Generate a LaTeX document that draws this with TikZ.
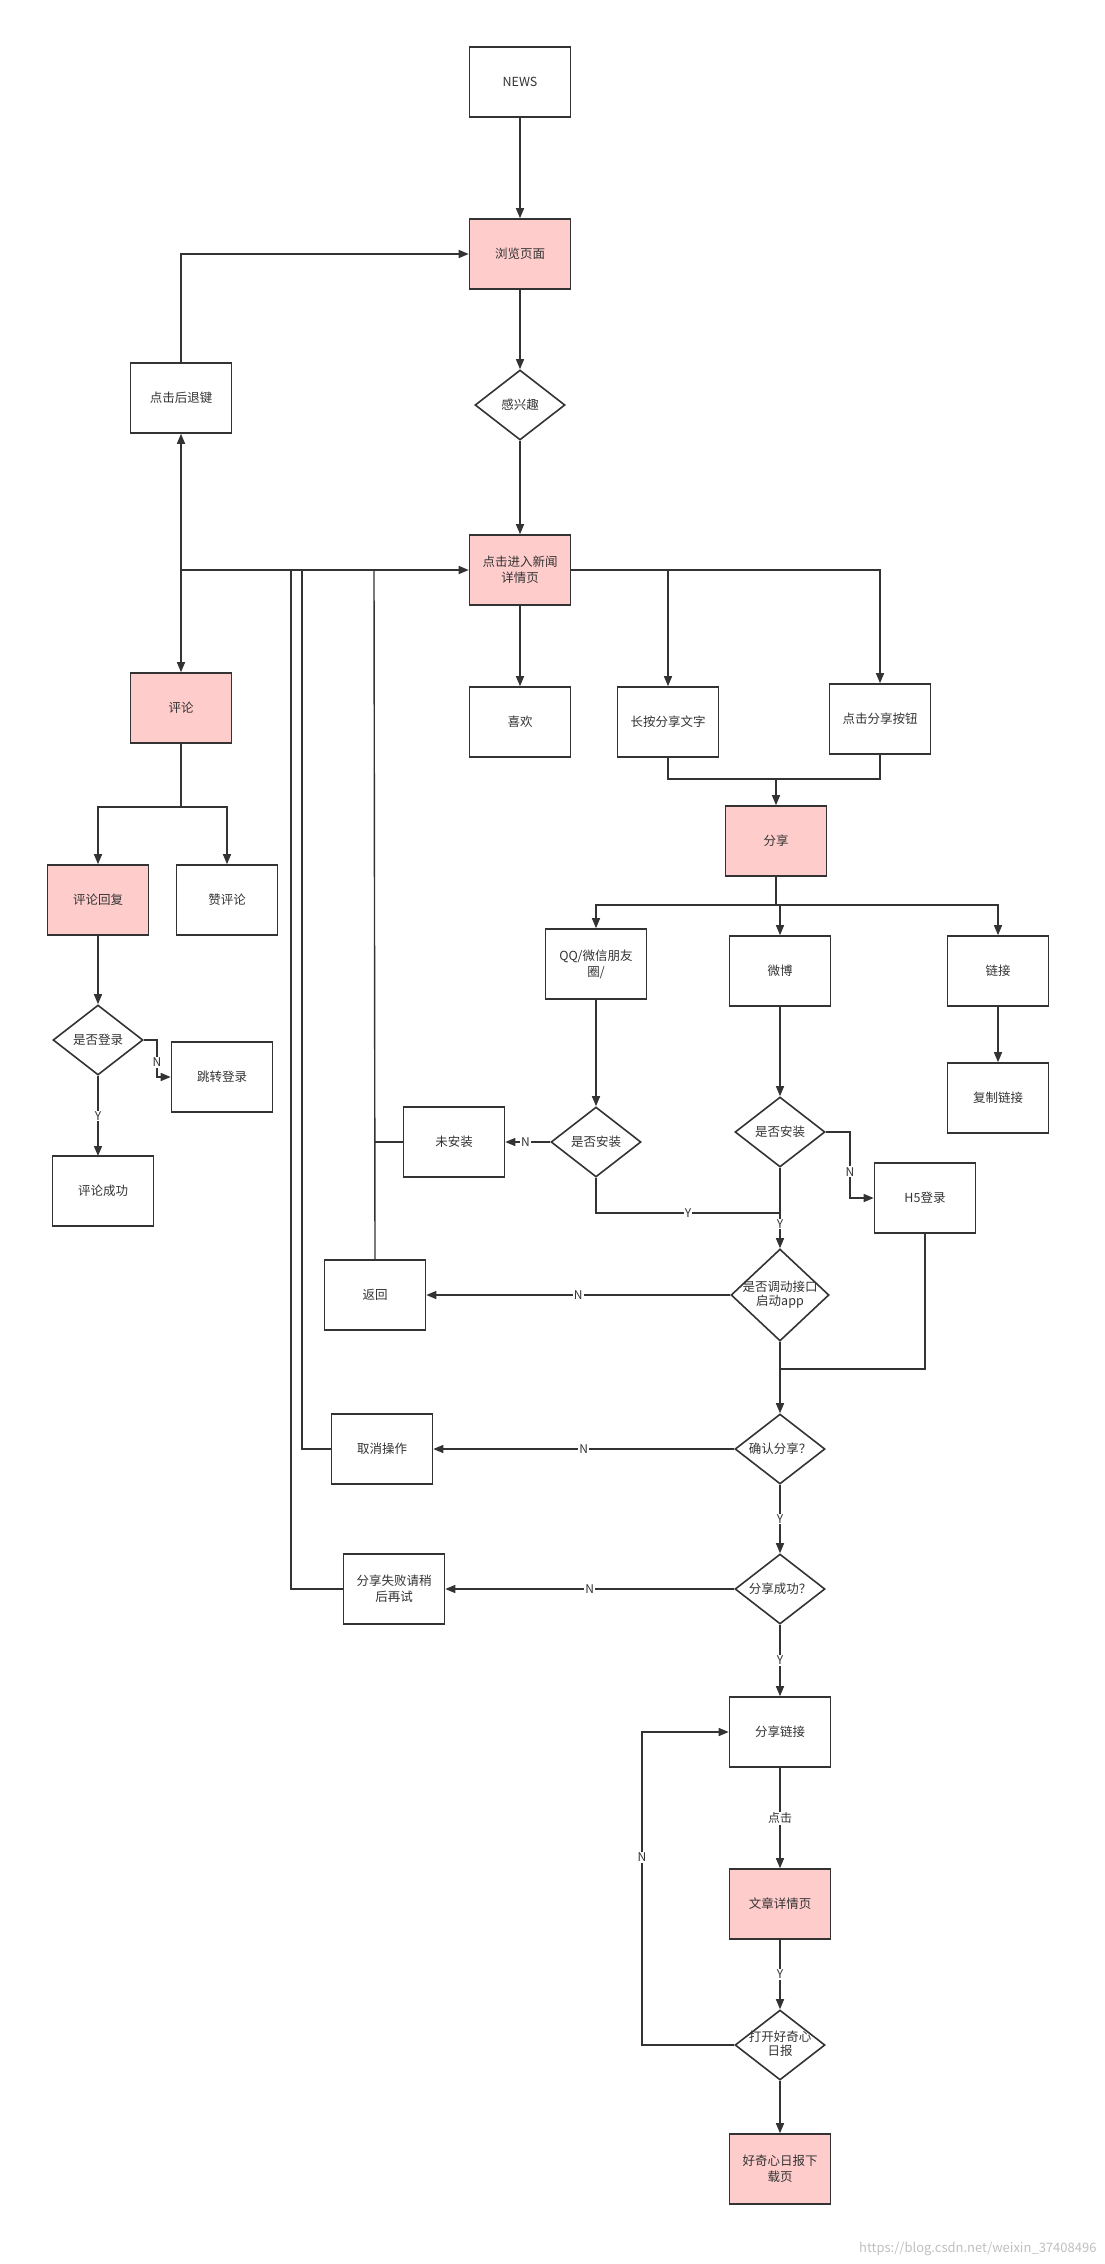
\documentclass[tikz,border=0pt]{standalone}
\usepackage{fontspec}
\setmainfont{Noto Sans CJK SC}
\usetikzlibrary{arrows.meta,shapes.geometric}
\definecolor{ln}{HTML}{333333}
\definecolor{pk}{HTML}{FFCCCC}
\begin{document}
\begin{tikzpicture}[x=1pt,y=-1pt,
  every node/.style={font=\fontsize{12.5}{16}\selectfont,text=ln},
  box/.style={draw=ln,line width=1.6pt,minimum width=101pt,minimum height=70pt,align=center,inner sep=2pt,text width=92pt},
  pbox/.style={box,fill=pk},
  dia/.style={draw=ln,line width=1.6pt,diamond,inner sep=0pt,minimum width=90pt,minimum height=70pt},
  wdia/.style={dia,minimum width=98pt,minimum height=92pt},
  lab/.style={fill=white,inner sep=1pt,font=\fontsize{12}{14}\selectfont},
  e/.style={draw=ln,line width=1.4pt,-{Triangle[length=10pt,width=8pt]}},
  l/.style={draw=ln,line width=1.4pt}]
\useasboundingbox (0,0) rectangle (1105,2264);
% nodes
\node[box] (news) at (520,82) {NEWS};
\node[pbox] (browse) at (520,254) {浏览页面};
\node[dia,label={center:感兴趣}] (interest) at (520,405) {};
\node[pbox] (detail) at (520,570) {点击进入新闻\\详情页};
\node[box] (back) at (181,398) {点击后退键};
\node[pbox] (cmt) at (181,708) {评论};
\node[box] (like) at (520,722) {喜欢};
\node[box] (lpress) at (668,722) {长按分享文字};
\node[box] (sbtn) at (880,719) {点击分享按钮};
\node[pbox] (share) at (776,841) {分享};
\node[box] (qq) at (596,964) {QQ/微信朋友\\圈/};
\node[box] (wb) at (780,971) {微博};
\node[box] (link) at (998,971) {链接};
\node[box] (copy) at (998,1098) {复制链接};
\node[pbox] (reply) at (98,900) {评论回复};
\node[box] (zan) at (227,900) {赞评论};
\node[dia,label={center:是否登录}] (login) at (98,1040) {};
\node[box] (jump) at (222,1077) {跳转登录};
\node[box] (csucc) at (103,1191) {评论成功};
\node[dia,label={center:是否安装}] (qqinst) at (596,1142) {};
\node[box] (noinst) at (454,1142) {未安装};
\node[dia,label={center:是否安装}] (wbinst) at (780,1132) {};
\node[box] (h5) at (925,1198) {H5登录};
\node[wdia,label={center:{\begin{tabular}{@{}c@{}}是否调动接口\\[-2pt]启动app\end{tabular}}}] (call) at (780,1295) {};
\node[box] (ret) at (375,1295) {返回};
\node[dia,label={center:确认分享？}] (confirm) at (780,1449) {};
\node[box] (cancel) at (382,1449) {取消操作};
\node[dia,label={center:分享成功？}] (succ) at (780,1589) {};
\node[box] (fail) at (394,1589) {分享失败请稍\\后再试};
\node[box] (slink) at (780,1732) {分享链接};
\node[pbox] (art) at (780,1904) {文章详情页};
\node[dia,label={center:{\begin{tabular}{@{}c@{}}打开好奇心\\[-2pt]日报\end{tabular}}}] (open) at (780,2045) {};
\node[pbox] (dl) at (780,2169) {好奇心日报下\\载页};
\node[text=black!25,font=\fontsize{13}{15}\selectfont,anchor=east] (wm) at (1100,2249) {https://blog.csdn.net/weixin\_37408496};
% coordinates
\coordinate (j1) at (181,570);
\coordinate (j2) at (374,570);
\coordinate (jp) at (776,779);
\coordinate (sp) at (776,905);
\coordinate (cp) at (181,807);
\coordinate (lc) at (157,1040);
\coordinate (ym) at (780,1213);
\coordinate (hc) at (850,1132);
\coordinate (hm) at (780,1369);
\coordinate (nl) at (642,2045);
\coordinate (csin) at (103,1156);
% edges
\path[e] (news) -- (browse);
\path[e] (browse) -- (interest);
\path[e] (interest) -- (detail);
\path[e] (back.north) |- (browse.west);
\path[e] (j1) -- (detail.west);
\path[e] (j1) -- (back.south);
\path[e] (j1) -- (cmt.north);
\path[l] (ret.north) -- (j2);
\path[l] (noinst.west) -- (374,1142);
\path[l] (cancel.west) -| (302,570);
\path[l] (fail.west) -| (291,570);
\path[e] (detail) -- (like);
\path[e] (detail.east) -| (lpress.north);
\path[e] (detail.east) -| (sbtn.north);
\path[l] (lpress.south) |- (jp);
\path[l] (sbtn.south) |- (jp);
\path[e] (jp) -- (share.north);
\path[l] (share.south) -- (sp);
\path[e] (sp) -| (qq.north);
\path[e] (sp) -| (wb.north);
\path[e] (sp) -| (link.north);
\path[e] (link) -- (copy);
\path[l] (cmt.south) -- (cp);
\path[e] (cp) -| (reply.north);
\path[e] (cp) -| (zan.north);
\path[e] (reply) -- (login);
\path[e] (login.east) -- (lc) |- node[lab,pos=0.3]{N} (jump.west);
\path[e] (login.south) -- node[lab]{Y} (98,1156);
\path[e] (qq) -- (qqinst);
\path[e] (qqinst.west) -- node[lab,pos=0.55]{N} (noinst.east);
\path[l] (qqinst.south) |- node[lab,pos=0.75]{Y} (ym);
\path[e] (wb) -- (wbinst);
\path[e] (wbinst.south) -- node[lab,pos=0.7]{Y} (call.north);
\path[e] (wbinst.east) -- (hc) |- node[lab,pos=0.3]{N} (h5.west);
\path[e] (call.west) -- node[lab]{N} (ret.east);
\path[l] (h5.south) |- (hm);
\path[e] (call.south) -- (confirm.north);
\path[e] (confirm.west) -- node[lab]{N} (cancel.east);
\path[e] (confirm.south) -- node[lab]{Y} (succ.north);
\path[e] (succ.west) -- node[lab]{N} (fail.east);
\path[e] (succ.south) -- node[lab]{Y} (slink.north);
\path[e] (slink) -- node[lab]{点击} (art);
\path[e] (art) -- node[lab]{Y} (open);
\path[e] (open) -- (dl);
\path[e] (open.west) -- (nl) |- node[lab,pos=0.3]{N} (slink.west);
\end{tikzpicture}
\end{document}
